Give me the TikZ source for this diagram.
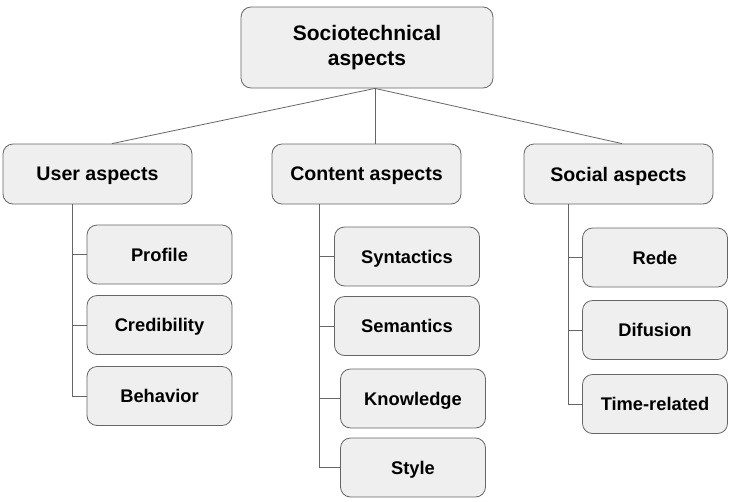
\documentclass[tikz,border=0pt]{standalone}
\usepackage{fontspec}
\setmainfont{Liberation Sans}
\usepackage{tikz}
\usetikzlibrary{positioning}
\definecolor{boxfill}{HTML}{EFEFEF}
\definecolor{edgegray}{HTML}{666666}
\begin{document}
\begin{tikzpicture}[x=1pt, y=-1pt,
    box/.style={draw=edgegray, fill=boxfill, rounded corners=10pt, line width=0.8pt,
      inner sep=0pt, align=center, font=\bfseries},
    topbox/.style={box, minimum width=252pt, minimum height=81pt, font=\bfseries\fontsize{21}{25}\selectfont},
    midbox/.style={box, minimum width=189pt, minimum height=60pt, text depth=0pt,
      font=\bfseries\fontsize{19.6}{23}\selectfont},
    leafbox/.style={box, minimum width=145pt, minimum height=59pt, text depth=0pt,
      font=\bfseries\fontsize{18.3}{22}\selectfont},
    link/.style={draw=edgegray, line width=0.8pt}]
  \useasboundingbox (0,0) rectangle (733,501);
  % top level
  \node[topbox] (root) at (367,47.5) {Sociotechnical\\aspects};
  \node[midbox] (user) at (97.5,174) {User aspects};
  \node[midbox] (content) at (366.5,174) {Content aspects};
  \node[midbox] (social) at (618.5,174) {Social aspects};
  \coordinate (hub) at ([xshift=8pt]root.south);
  \draw[link] (hub) -- ([xshift=14.5pt]user.north);
  \draw[link] (hub) -- ([xshift=8.5pt]content.north);
  \draw[link] (hub) -- ([xshift=3.5pt]social.north);
  % user aspects
  \node[leafbox] (profile) at (159.5,254.5) {Profile};
  \node[leafbox] (cred) at (159.5,325) {Credibility};
  \node[leafbox] (behav) at (159.5,396) {Behavior};
  \coordinate (utrunk) at ([xshift=-25.5pt]user.south);
  \foreach \n in {profile,cred,behav}
    \draw[link] (utrunk) |- (\n.west);
  % content aspects
  \node[leafbox] (syn) at (407,256.5) {Syntactics};
  \node[leafbox] (sem) at (407,326) {Semantics};
  \node[leafbox] (know) at (413,398.5) {Knowledge};
  \node[leafbox] (style) at (413,467.5) {Style};
  \coordinate (ctrunk) at ([xshift=-47.5pt]content.south);
  \foreach \n in {syn,sem,know,style}
    \draw[link] (ctrunk) |- (\n.west);
  % social aspects
  \node[leafbox] (rede) at (655,257.5) {Rede};
  \node[leafbox] (difu) at (655,330) {Difusion};
  \node[leafbox] (time) at (655,404) {Time-related};
  \coordinate (strunk) at ([xshift=-50.5pt]social.south);
  \foreach \n in {rede,difu,time}
    \draw[link] (strunk) |- (\n.west);
\end{tikzpicture}
\end{document}
